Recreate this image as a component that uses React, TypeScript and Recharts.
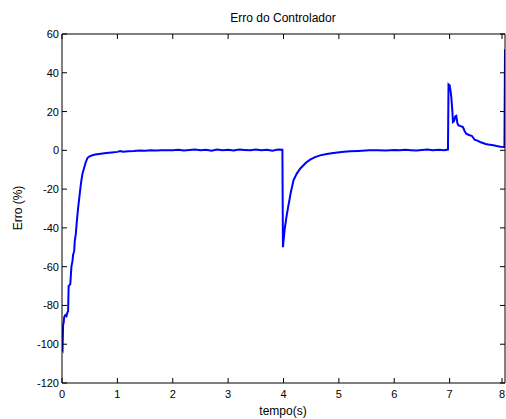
import React from 'react';
import { LineChart, Line, XAxis, YAxis } from 'recharts';

const title = 'Erro do Controlador';
const xLabel = 'tempo(s)';
const yLabel = 'Erro (%)';

const xTicks = [0, 1, 2, 3, 4, 5, 6, 7, 8];
const yTicks = [-120, -100, -80, -60, -40, -20, 0, 20, 40, 60];

const tempo = [
  0, 0.01, 0.02, 0.03, 0.04, 0.06, 0.08, 0.1, 0.11, 0.12, 0.15, 0.17, 0.19, 0.2, 0.22, 0.23, 0.25, 0.27, 0.29,
  0.31, 0.33, 0.35, 0.37, 0.4, 0.43, 0.46, 0.49, 0.55, 0.6, 0.7, 0.8, 0.9, 1.0, 1.05, 1.1, 1.2, 1.3, 1.4, 1.5,
  1.6, 1.7, 1.8, 1.9, 2.0, 2.1, 2.2, 2.3, 2.4, 2.5, 2.6, 2.7, 2.8, 2.9, 3.0, 3.1, 3.2, 3.3, 3.4, 3.5, 3.6, 3.7,
  3.8, 3.9, 3.98, 3.99, 4.02, 4.05, 4.085, 4.13, 4.18, 4.24, 4.3, 4.4, 4.48, 4.57, 4.66, 4.78, 4.9, 5.05, 5.2,
  5.35, 5.55, 5.7, 5.85, 6.0, 6.1, 6.2, 6.3, 6.4, 6.5, 6.6, 6.7, 6.8, 6.9, 6.97, 6.98, 7.0, 7.02, 7.03, 7.05,
  7.06, 7.08, 7.1, 7.12, 7.14, 7.16, 7.2, 7.24, 7.27, 7.3, 7.36, 7.4, 7.45, 7.5, 7.55, 7.6, 7.65, 7.7, 7.79,
  7.85, 7.92, 7.99, 8.0,
];

const erro = [
  -102.5, -103, -90, -89, -86, -85, -85.5, -83.5, -83, -70, -69, -60, -57, -54, -52, -47, -43, -36, -30,
  -25, -20, -15.5, -12, -9, -6, -4, -3.2, -2.5, -2.2, -1.8, -1.4, -1.1, -0.8, -0.4, -0.7, -0.5, -0.4, -0.1, -0.2,
  0, -0.1, 0.1, 0, 0.1, 0.3, -0.1, 0.2, 0.4, 0, 0.3, -0.2, 0.4, 0.1, 0.3, -0.1, 0.4, 0.2, 0, 0.4, 0.1, 0.3,
  -0.2, 0.4, 0.3, -50, -41, -35, -29, -22, -15.5, -12, -9.5, -6.5, -4.8, -3.5, -2.6, -1.9, -1.4, -0.9, -0.5,
  -0.3, 0, 0.1, -0.1, 0.2, 0, 0.3, 0.1, -0.1, 0.2, 0.4, 0, 0.3, 0.1, 0.4, 34, 33.5, 30, 27.5, 20,
  14.6, 15, 17.5, 17.8, 14, 12.9, 12.5, 12, 10, 8.6, 7.8, 7.5, 5.5, 5, 4.3, 3.8, 3.3, 3, 2.6,
  2.2, 1.9, 1.7, 52,
];

const data = tempo.map((t, i) => ({ t, v: erro[i] }));

const font = 'Arial, "Liberation Sans", sans-serif';
const TICK_LEN = 5;
const MARGIN = 6;

function makeTick(orient: 'bottom' | 'top' | 'left' | 'right', label: boolean) {
  return (props: any) => {
    const { x, y, payload } = props;
    let line: [number, number, number, number];
    let text: React.ReactNode = null;
    if (orient === 'bottom') {
      const ay = y - MARGIN;
      line = [x, ay, x, ay - TICK_LEN];
      if (label)
        text = (
          <text x={x} y={ay + 15} textAnchor="middle" fontSize={11} fontFamily={font} fill="#000">
            {payload.value}
          </text>
        );
    } else if (orient === 'top') {
      const ay = y + MARGIN;
      line = [x, ay, x, ay + TICK_LEN];
    } else if (orient === 'left') {
      const ax = x + MARGIN;
      line = [ax, y, ax + TICK_LEN, y];
      if (label)
        text = (
          <text x={ax - 3} y={y + 4} textAnchor="end" fontSize={11} fontFamily={font} fill="#000">
            {payload.value}
          </text>
        );
    } else {
      const ax = x - MARGIN;
      line = [ax, y, ax - TICK_LEN, y];
    }
    return (
      <g>
        <line x1={line[0]} y1={line[1]} x2={line[2]} y2={line[3]} stroke="#000" strokeWidth={1} />
        {text}
      </g>
    );
  };
}

const bottomTick = makeTick('bottom', true);
const topTick = makeTick('top', false);
const leftTick = makeTick('left', true);
const rightTick = makeTick('right', false);

export default function App() {
  return (
    <div style={{ position: 'absolute', left: 0, top: 0, width: 506, height: 419, background: '#fff', fontFamily: font }}>
      <LineChart width={506} height={419} data={data} margin={{ top: 33, right: 0, bottom: 6, left: 0 }}>
        <XAxis
          dataKey="t"
          type="number"
          domain={[0, 8]}
          ticks={xTicks}
          allowDataOverflow
          height={30}
          tickSize={0}
          tickMargin={MARGIN}
          tickLine={false}
          tick={bottomTick}
          stroke="#000"
        />
        <XAxis
          xAxisId="top"
          dataKey="t"
          orientation="top"
          type="number"
          domain={[0, 8]}
          ticks={xTicks}
          allowDataOverflow
          height={1}
          tickSize={0}
          tickMargin={MARGIN}
          tickLine={false}
          tick={topTick}
          stroke="#000"
        />
        <YAxis
          type="number"
          domain={[-120, 60]}
          ticks={yTicks}
          allowDataOverflow
          width={62}
          tickSize={0}
          tickMargin={MARGIN}
          tickLine={false}
          tick={leftTick}
          stroke="#000"
        />
        <YAxis
          yAxisId="right"
          orientation="right"
          type="number"
          domain={[-120, 60]}
          ticks={yTicks}
          allowDataOverflow
          width={1}
          tickSize={0}
          tickMargin={MARGIN}
          tickLine={false}
          tick={rightTick}
          stroke="#000"
        />
        <Line
          xAxisId="top"
          yAxisId="right"
          type="linear"
          dataKey="v"
          stroke="none"
          dot={false}
          activeDot={false}
          isAnimationActive={false}
        />
        <Line
          type="linear"
          dataKey="v"
          stroke="#0000ff"
          strokeWidth={2}
          dot={false}
          isAnimationActive={false}
        />
      </LineChart>
      <div style={{ position: 'absolute', left: 0, width: 566, top: 10, textAlign: 'center', fontSize: 12, lineHeight: '16px' }}>
        {title}
      </div>
      <div style={{ position: 'absolute', left: 0, width: 566, top: 403, textAlign: 'center', fontSize: 12, lineHeight: '16px' }}>
        {xLabel}
      </div>
      <div
        style={{
          position: 'absolute',
          left: 18,
          top: 208,
          transform: 'translate(-50%, -50%) rotate(-90deg)',
          fontSize: 12,
          lineHeight: '16px',
          whiteSpace: 'nowrap',
        }}
      >
        {yLabel}
      </div>
    </div>
  );
}
